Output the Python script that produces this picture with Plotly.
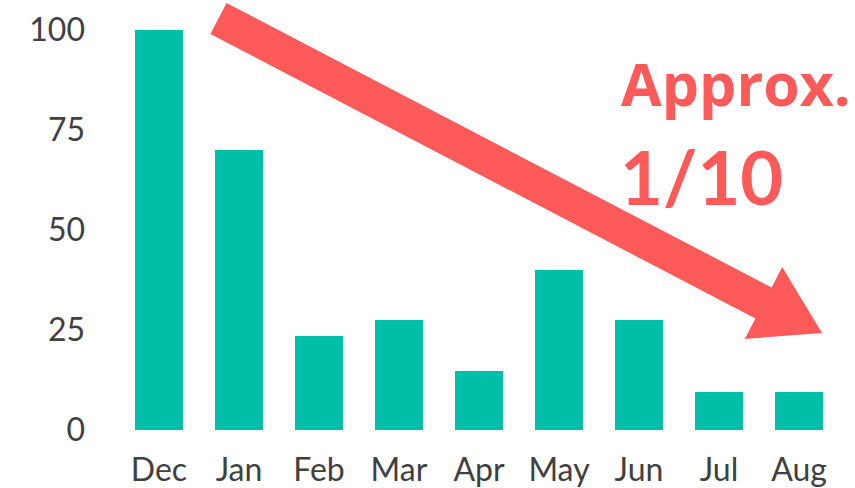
import plotly.graph_objects as go

months = ["Dec", "Jan", "Feb", "Mar", "Apr", "May", "Jun", "Jul", "Aug"]
values = [100, 70, 23.5, 27.5, 14.75, 40, 27.5, 9.5, 9.5]
y_ticks = [0, 25, 50, 75, 100]
note_line1 = "Approx."
note_line2 = "1/10"

BAR = "#00BFA8"
RED = "#FF5A5A"
TXT = "#404040"

OFF = 0  # body margin removed via post_script
W, H = 855 - OFF, 488 - OFF
L, R, T = 119 - OFF, 16, 30 - OFF
B = H - (430 - OFF)
PW, PH = W - L - R, H - T - B

def px(x, y):
    # page pixel -> paper coords
    return (x - OFF - L) / PW, (H - B - (y - OFF)) / PH

arrow_px = [(226.6, 3), (771.6, 287.5), (782.2, 267.1), (822, 333),
            (744.8, 338.9), (755.4, 318.5), (210.4, 34)]
pts = [px(x, y) for x, y in arrow_px]
path = "M " + " L ".join(f"{a:.4f},{b:.4f}" for a, b in pts) + " Z"

fig = go.Figure(go.Bar(x=months, y=values, marker_color=BAR, marker_line_width=0))
fig.update_layout(
    width=W, height=H, margin=dict(l=L, r=R, t=T, b=B, autoexpand=False),
    plot_bgcolor="white", paper_bgcolor="white", bargap=0.4,
    showlegend=False,
    font=dict(family="Lato", color=TXT, size=32),
    shapes=[dict(type="path", xref="paper", yref="paper", path=path,
                 fillcolor=RED, line=dict(width=0), layer="above")],
    annotations=[
        dict(text=note_line1, xref="paper", yref="paper", x=px(619, 0)[0], y=px(0, 83)[1],
             xanchor="left", yanchor="middle", showarrow=False,
             font=dict(family="Open Sans", size=59, color=RED, weight="bold")),
        dict(text=note_line2, xref="paper", yref="paper", x=px(618, 0)[0], y=px(0, 176)[1],
             xanchor="left", yanchor="middle", showarrow=False,
             font=dict(family="Lato", size=74, color=RED, weight="bold")),
    ],
)
fig.update_yaxes(range=[0, 100], tickvals=y_ticks, showgrid=False, zeroline=False,
                 showline=False, ticks="", ticklabelstandoff=33, automargin=False,
                 tickfont=dict(color=TXT, size=32))
fig.update_xaxes(showgrid=False, showline=False, ticks="", ticklabelstandoff=18,
                 automargin=False, tickfont=dict(color=TXT, size=32))
fig.write_html("out.html", config={"displayModeBar": False},
               post_script="document.body.style.margin='0';")
